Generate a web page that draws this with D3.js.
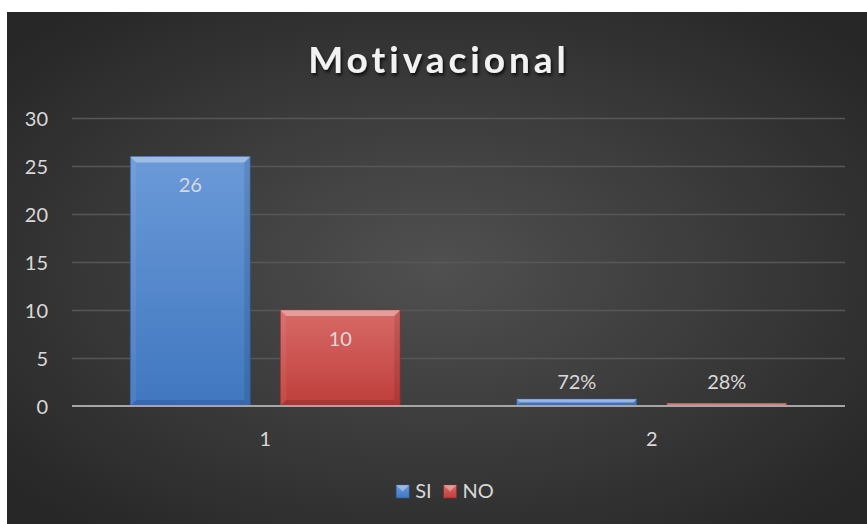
<!DOCTYPE html>
<html>
<head>
<meta charset="utf-8">
<script src="https://cdn.jsdelivr.net/npm/d3@7"></script>
<style>
  html, body { margin: 0; padding: 0; background: #fff; }
  svg text { font-family: Lato, "Open Sans", sans-serif; }
</style>
</head>
<body>
<div id="chart"></div>
<script>
// chart data
const categories = ["1", "2"];
const seriesNames = ["SI", "NO"];
const siValues = [26, 0.72];
const noValues = [10, 0.28];
const siLabels = ["26", "72%"];
const noLabels = ["10", "28%"];
const yTicks = [0, 5, 10, 15, 20, 25, 30];

const width = 867, height = 524;
const margin = { top: 118, right: 22, bottom: 118, left: 72 };

const colours = {
  SI: { top: "#6b9ad8", bottom: "#4077c0", dark: "#2c5a97" },
  NO: { top: "#d86a67", bottom: "#bf3e3b", dark: "#8e2a28" }
};

const rows = categories.map((c, i) => ({
  cat: c,
  bars: [
    { key: "SI", value: siValues[i], label: siLabels[i] },
    { key: "NO", value: noValues[i], label: noLabels[i] }
  ]
}));

const svg = d3.select("#chart").append("svg")
  .attr("xmlns", "http://www.w3.org/2000/svg")
  .attr("width", width)
  .attr("height", height);

const defs = svg.append("defs");

// background radial gradient
const bg = defs.append("radialGradient").attr("id", "bg")
  .attr("cx", "50%").attr("cy", "50%").attr("r", "65%");
bg.append("stop").attr("offset", "0%").attr("stop-color", "#505050");
bg.append("stop").attr("offset", "100%").attr("stop-color", "#272727");

seriesNames.forEach(k => {
  const g = defs.append("linearGradient").attr("id", "grad" + k)
    .attr("x1", 0).attr("y1", 0).attr("x2", 0).attr("y2", 1);
  g.append("stop").attr("offset", "0%").attr("stop-color", colours[k].top);
  g.append("stop").attr("offset", "100%").attr("stop-color", colours[k].bottom);
});

const shadow = defs.append("filter").attr("id", "shadow")
  .attr("x", "-10%").attr("y", "-30%").attr("width", "120%").attr("height", "160%");
shadow.append("feDropShadow").attr("dx", 1.5).attr("dy", 2.5)
  .attr("stdDeviation", 1.5).attr("flood-color", "#000").attr("flood-opacity", 0.75);

svg.append("rect")
  .attr("x", 7).attr("y", 12)
  .attr("width", width - 7).attr("height", height - 12)
  .attr("fill", "url(#bg)");

// title
svg.append("text")
  .attr("x", (width + 7) / 2 + 2)
  .attr("y", 73)
  .attr("text-anchor", "middle")
  .attr("font-size", 37)
  .attr("font-weight", "bold")
  .attr("letter-spacing", 4)
  .attr("fill", "#f2f2f2")
  .attr("filter", "url(#shadow)")
  .text("Motivacional");

const x = d3.scaleBand()
  .domain(categories)
  .range([margin.left, width - margin.right])
  .paddingInner(0).paddingOuter(0);

const y = d3.scaleLinear()
  .domain([0, 30])
  .range([height - margin.bottom, margin.top]);

const bw = x.bandwidth();
const xSub = d3.scaleBand()
  .domain(seriesNames)
  .range([bw * 0.1507, bw * 0.8493])
  .paddingInner(0.2);

// gridlines + y labels
const yAxis = svg.append("g")
  .attr("transform", `translate(${margin.left},0)`)
  .call(d3.axisLeft(y).tickValues(yTicks)
    .tickSize(-(width - margin.left - margin.right))
    .tickPadding(24));
yAxis.select(".domain").remove();
yAxis.selectAll("line").attr("stroke", "#575757").attr("stroke-width", 1.5);
yAxis.selectAll("text")
  .attr("fill", "#d9d9d9")
  .attr("font-size", 20)
  .attr("dy", "0.36em");
yAxis.selectAll(".tick").filter(d => d === 0).select("line").remove();

// bars
const groups = svg.selectAll(".cat")
  .data(rows)
  .enter().append("g")
  .attr("class", "cat")
  .attr("transform", d => `translate(${x(d.cat)},0)`);

const bar = groups.selectAll(".bar")
  .data(d => d.bars)
  .enter().append("g")
  .attr("class", "bar");

bar.append("rect")
  .attr("x", d => xSub(d.key))
  .attr("y", d => y(d.value))
  .attr("width", xSub.bandwidth())
  .attr("height", d => y(0) - y(d.value))
  .attr("fill", d => "url(#grad" + d.key + ")")
  .attr("stroke", d => colours[d.key].dark)
  .attr("stroke-width", 0.8);

// bevel faces
function bevel(d, face) {
  const x0 = xSub(d.key), x1 = x0 + xSub.bandwidth();
  const y0 = y(d.value), y1 = y(0);
  const b = Math.min(6, (y1 - y0) / 2);
  if (face === "top") return `M${x0},${y0}L${x1},${y0}L${x1 - b},${y0 + b}L${x0 + b},${y0 + b}Z`;
  if (face === "left") return `M${x0},${y0}L${x0 + b},${y0 + b}L${x0 + b},${y1 - b}L${x0},${y1}Z`;
  if (face === "right") return `M${x1},${y0}L${x1},${y1}L${x1 - b},${y1 - b}L${x1 - b},${y0 + b}Z`;
  return `M${x0},${y1}L${x0 + b},${y1 - b}L${x1 - b},${y1 - b}L${x1},${y1}Z`;
}
bar.append("path").attr("d", d => bevel(d, "top")).attr("fill", "#fff").attr("fill-opacity", 0.35);
bar.append("path").attr("d", d => bevel(d, "left")).attr("fill", "#fff").attr("fill-opacity", 0.06);
bar.append("path").attr("d", d => bevel(d, "right")).attr("fill", "#000").attr("fill-opacity", 0.1);
bar.append("path").attr("d", d => bevel(d, "bottom")).attr("fill", "#000").attr("fill-opacity", 0.12);

// data labels
bar.append("text")
  .attr("x", d => xSub(d.key) + xSub.bandwidth() / 2)
  .attr("y", d => (y(0) - y(d.value) > 40) ? y(d.value) + 36 : y(0) - 17)
  .attr("text-anchor", "middle")
  .attr("font-size", 20)
  .attr("fill", "#d9d9d9")
  .text(d => d.label);

// zero axis line
svg.append("line")
  .attr("x1", margin.left).attr("x2", width - margin.right)
  .attr("y1", y(0)).attr("y2", y(0))
  .attr("stroke", "#a6a6a6").attr("stroke-width", 2);

// category labels
const xAxis = svg.append("g")
  .attr("transform", `translate(0,${y(0)})`)
  .call(d3.axisBottom(x).tickSize(0).tickPadding(26));
xAxis.select(".domain").remove();
xAxis.selectAll("text")
  .attr("fill", "#d9d9d9")
  .attr("font-size", 20);

// legend
const legendCenter = 445;
const legend = svg.append("g");
const items = legend.selectAll(".item")
  .data(seriesNames)
  .enter().append("g").attr("class", "item");
items.append("rect")
  .attr("width", 13).attr("height", 13)
  .attr("fill", d => "url(#grad" + d + ")")
  .attr("stroke", d => colours[d].dark).attr("stroke-width", 0.6);
items.append("path")
  .attr("d", "M0,0L13,0L6.5,6.5Z")
  .attr("fill", "#fff").attr("fill-opacity", 0.35);
items.append("text")
  .attr("x", 19).attr("y", 13)
  .attr("font-size", 20)
  .attr("fill", "#d9d9d9")
  .text(d => d);
let offset = 0;
const widths = [];
items.each(function () { widths.push(this.getBBox().width); });
const total = d3.sum(widths) + 12 * (widths.length - 1);
items.attr("transform", (d, i) => {
  const px = legendCenter - total / 2 + offset;
  offset += widths[i] + 12;
  return `translate(${px},485)`;
});
</script>
</body>
</html>
